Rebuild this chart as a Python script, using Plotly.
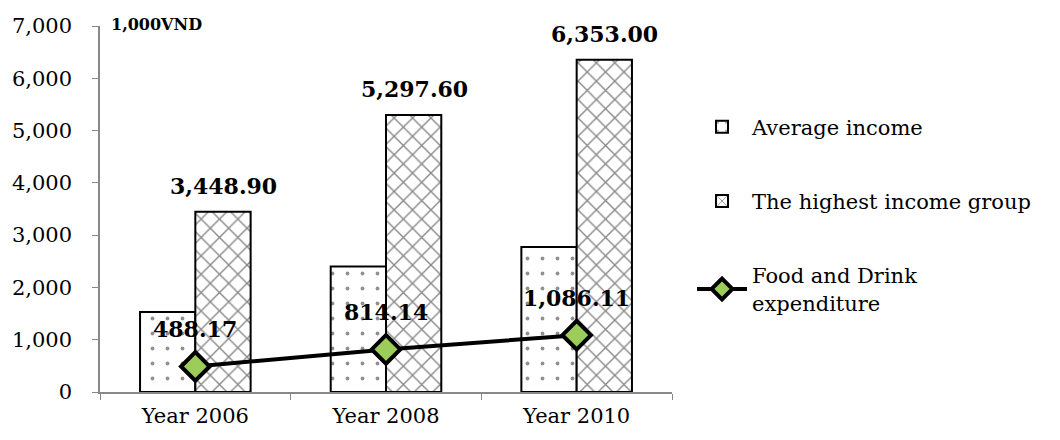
import plotly.graph_objects as go

years = ["Year 2006", "Year 2008", "Year 2010"]
average_income = [1530, 2400, 2775]
highest_income = [3448.90, 5297.60, 6353.00]
food_drink = [488.17, 814.14, 1086.11]
y_ticks = [0, 1000, 2000, 3000, 4000, 5000, 6000, 7000]

SERIF = "DejaVu Serif"

fig = go.Figure()

fig.add_trace(go.Bar(
    name="Average income",
    x=years, y=average_income,
    marker=dict(color="white", line=dict(color="black", width=2),
                pattern=dict(shape=".", fgcolor="#222222", bgcolor="white",
                             size=15, solidity=0.05)),
    legendgroup="a",
))

fig.add_trace(go.Bar(
    name="The highest income group",
    x=years, y=highest_income,
    marker=dict(color="white", line=dict(color="black", width=2),
                pattern=dict(shape="x", fgcolor="#111111", bgcolor="white",
                             size=13, solidity=0.2)),
    legendgroup="b",
))

fig.add_trace(go.Scatter(
    name="Food and Drink<br>expenditure",
    x=years, y=food_drink,
    mode="lines+markers",
    line=dict(color="black", width=4),
    marker=dict(symbol="diamond", size=22, color="#9ccc5a",
                line=dict(color="black", width=4)),
    legendgroup="c",
))

# value labels: above the highest-income bars and above the food & drink points
bar_labels = [
    dict(x=x, y=v, text=f"<b>{v:,.2f}</b>", xref="x", yref="y",
         showarrow=False, yshift=26, xshift=28,
         font=dict(family=SERIF, size=22, color="black"))
    for x, v in zip(years, highest_income)
]
food_labels = [
    dict(x=x, y=v, text=f"<b>{v:,.2f}</b>", xref="x", yref="y",
         showarrow=False, yshift=37,
         font=dict(family=SERIF, size=22, color="black"))
    for x, v in zip(years, food_drink)
]

fig.update_layout(
    width=1060, height=440,
    margin=dict(l=98, r=388, t=26, b=48),
    paper_bgcolor="white", plot_bgcolor="white",
    barmode="group", bargap=0.42, bargroupgap=0,
    font=dict(family=SERIF, size=21, color="black"),
    showlegend=True,
    legend=dict(x=1.035, y=0.78, xanchor="left", yanchor="top",
                font=dict(family=SERIF, size=21, color="black"),
                tracegroupgap=44, itemwidth=50),
    xaxis=dict(showline=True, linecolor="#888888", linewidth=1.5,
               ticks="outside", ticklen=6, tickcolor="#888888",
               tickson="boundaries", showgrid=False, ticklabelstandoff=4,
               tickfont=dict(family=SERIF, size=21)),
    yaxis=dict(range=[0, 7000], tickvals=y_ticks,
               ticktext=[f"{v:,}" for v in y_ticks],
               showline=True, linecolor="#888888", linewidth=1.5,
               ticks="outside", ticklen=6, tickcolor="#888888",
               showgrid=False, zeroline=False, ticklabelstandoff=16,
               tickfont=dict(family=SERIF, size=21)),
    annotations=[dict(text="<b>1,000VND</b>", xref="paper", yref="paper",
                      x=0.015, y=1.005, xanchor="left", yanchor="middle",
                      showarrow=False,
                      font=dict(family=SERIF, size=16, color="black"))]
                + bar_labels + food_labels,
)

fig.write_html("out.html")
